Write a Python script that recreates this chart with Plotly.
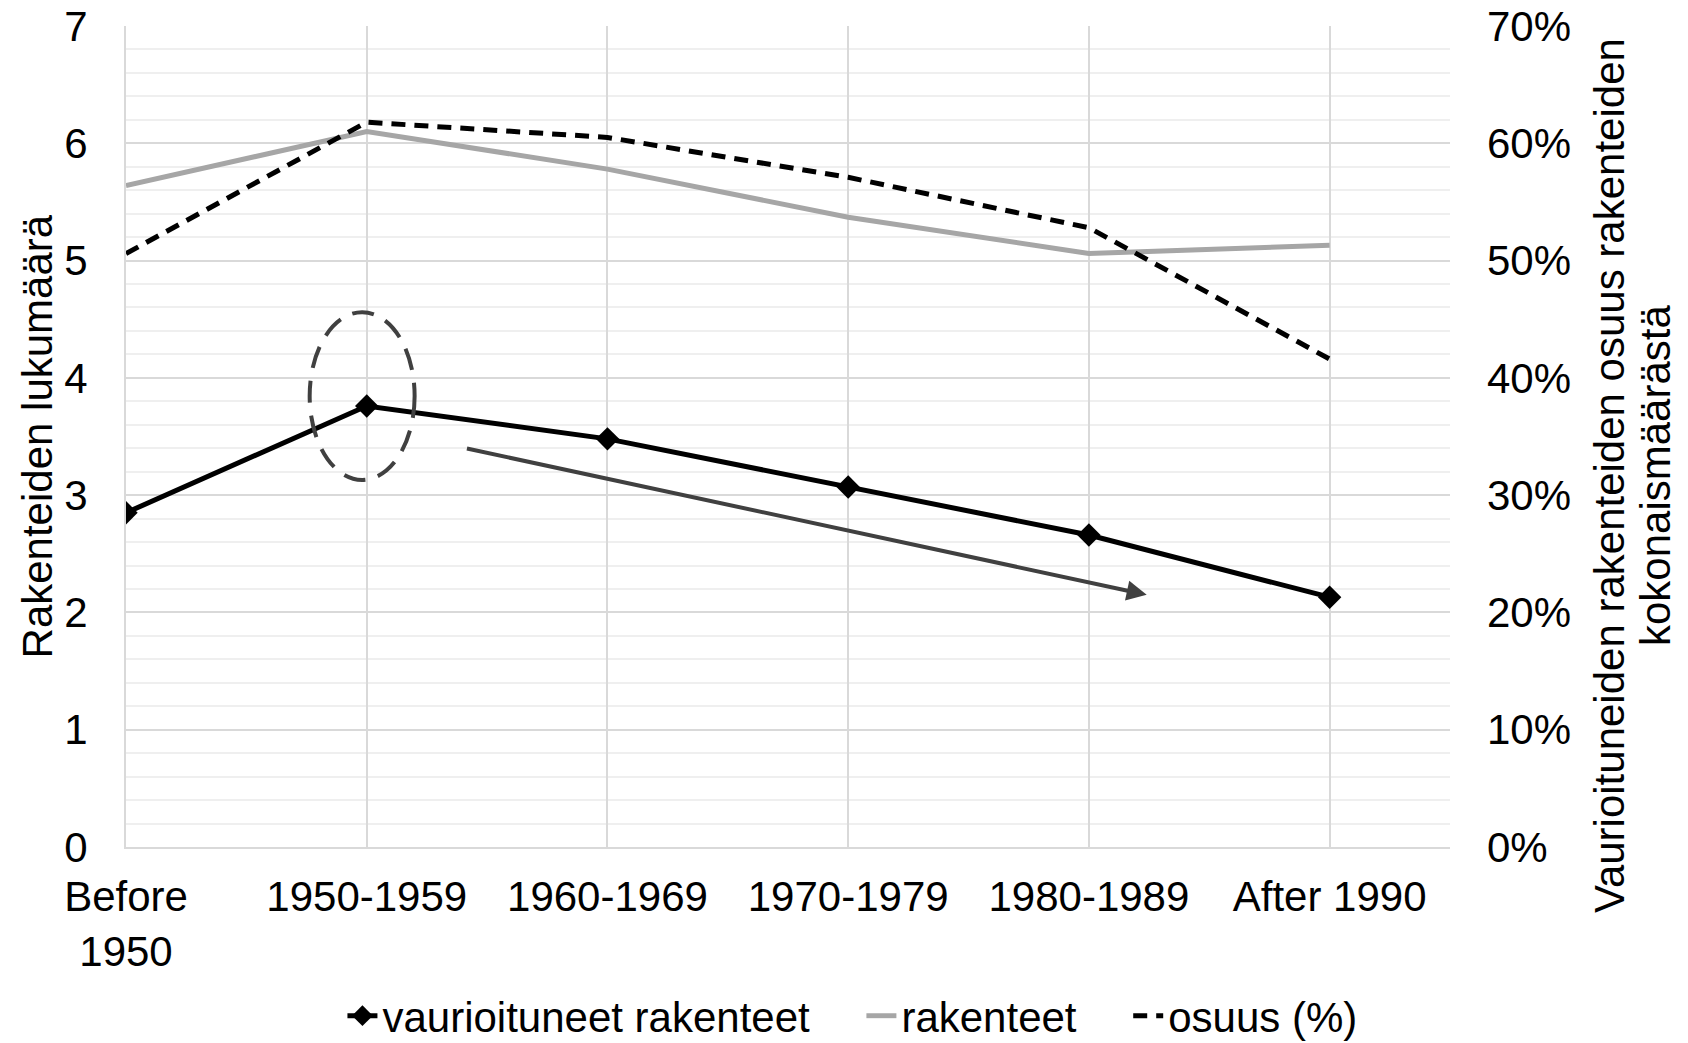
import plotly.graph_objects as go

categories = ["Before<br>1950", "1950-1959", "1960-1969", "1970-1979", "1980-1989", "After 1990"]
damaged = [2.85, 3.76, 3.48, 3.07, 2.66, 2.13]
structures = [5.64, 6.10, 5.78, 5.37, 5.06, 5.13]
share = [0.506, 0.618, 0.605, 0.571, 0.528, 0.416]

series_names = ["vaurioituneet rakenteet", "rakenteet", "osuus (%)"]
left_title = "Rakenteiden lukumäärä"
right_title_1 = "Vaurioituneiden rakenteiden osuus rakenteiden"
right_title_2 = "kokonaismäärästä"

FONT = "Liberation Sans, Arial, sans-serif"
FS = 42
x_idx = list(range(len(categories)))
PAD = "\u00a0" * 4

fig = go.Figure()
fig.add_trace(go.Scatter(
    x=x_idx, y=damaged, name=series_names[0] + PAD, mode="lines+markers",
    line=dict(color="black", width=5),
    marker=dict(symbol="diamond", size=18, color="black"),
))
fig.add_trace(go.Scatter(
    x=x_idx, y=structures, name=series_names[1] + PAD, mode="lines",
    line=dict(color="#a6a6a6", width=5),
))
fig.add_trace(go.Scatter(
    x=x_idx, y=share, name=series_names[2], mode="lines", yaxis="y2",
    line=dict(color="black", width=5, dash="14px,9px"),
))

# dashed ellipse around the 1950-1959 peak of the damaged series
pk = 1
fig.add_shape(type="circle", xref="x", yref="y",
              x0=pk - 0.237, x1=pk + 0.199,
              y0=damaged[pk] - 0.63, y1=damaged[pk] + 0.80,
              line=dict(color="#404040", width=4, dash="22px,13px"))

# trend arrow
fig.add_annotation(x=4.24, y=2.15, ax=1.41, ay=3.40, xref="x", yref="y",
                   axref="x", ayref="y", text="", showarrow=True,
                   arrowhead=2, arrowsize=1.0, arrowwidth=4, arrowcolor="#404040")

# axis titles
fig.add_annotation(text=left_title, xref="paper", yref="paper", x=-0.0665, y=0.5,
                   textangle=-90, showarrow=False, xanchor="center", yanchor="middle",
                   font=dict(family=FONT, size=FS, color="black"))
fig.add_annotation(text=right_title_1, xref="paper", yref="paper", x=(1609 - 126) / 1324,
                   y=(847 - 476) / 821, textangle=-90, showarrow=False,
                   xanchor="center", yanchor="middle",
                   font=dict(family=FONT, size=FS, color="black"))
fig.add_annotation(text=right_title_2, xref="paper", yref="paper", x=(1655 - 126) / 1324,
                   y=(847 - 476) / 821, textangle=-90, showarrow=False,
                   xanchor="center", yanchor="middle",
                   font=dict(family=FONT, size=FS, color="black"))

fig.update_layout(
    width=1688, height=1043,
    margin=dict(l=126, r=238, t=26, b=196, autoexpand=False),
    paper_bgcolor="white", plot_bgcolor="white",
    font=dict(family=FONT, size=FS, color="black"),
    showlegend=True,
    legend=dict(orientation="h", xref="container", yref="container",
                x=0.505, xanchor="center", y=0.026, yanchor="middle",
                font=dict(family=FONT, size=FS, color="black"),
                tracegroupgap=0),
    xaxis=dict(
        range=[0, 5.5], tickmode="array", tickvals=x_idx, ticktext=categories,
        showgrid=True, gridcolor="#d9d9d9", gridwidth=2,
        showline=True, linecolor="#d9d9d9", linewidth=2, automargin=False,
        zeroline=False, ticks="", ticklabelstandoff=12, ticklabeloverflow="allow",
        tickfont=dict(family=FONT, size=FS, color="black"),
    ),
    yaxis=dict(
        range=[0, 7], dtick=1, showgrid=True, gridcolor="#d9d9d9", gridwidth=2,
        minor=dict(dtick=0.2, showgrid=True, gridcolor="#efefef", gridwidth=2),
        showline=True, linecolor="#d9d9d9", linewidth=2, zeroline=False,
        ticks="", ticklabelstandoff=28, automargin=False, ticklabeloverflow="allow",
        tickfont=dict(family=FONT, size=FS, color="black"),
    ),
    yaxis2=dict(
        range=[0, 0.7], dtick=0.1, tickformat=".0%", overlaying="y", side="right",
        showgrid=False, showline=False, zeroline=False, ticks="", automargin=False,
        ticklabelstandoff=36, ticklabeloverflow="allow",
        tickfont=dict(family=FONT, size=FS, color="black"),
    ),
)

fig.write_html("out.html", config={"displayModeBar": False},
               post_script="document.body.style.margin='0';document.body.style.overflow='hidden';")
